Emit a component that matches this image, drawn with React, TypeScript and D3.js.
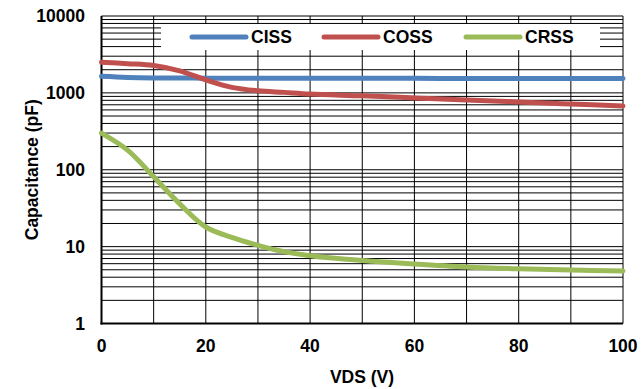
import React, { useEffect, useRef } from "react";
import * as d3 from "d3";

const vds = [0, 5, 10, 15, 20, 25, 30, 35, 40, 50, 60, 70, 80, 90, 100];
const ciss = [1640, 1590, 1565, 1558, 1555, 1553, 1552, 1551, 1550, 1548, 1545, 1542, 1540, 1538, 1535];
const coss = [2510, 2400, 2265, 1930, 1475, 1180, 1065, 1015, 965, 915, 860, 810, 760, 715, 675];
const crss = [300, 180, 81, 36, 18, 13.2, 10.4, 8.6, 7.6, 6.6, 5.95, 5.45, 5.15, 4.95, 4.83];

const xTicks = [0, 20, 40, 60, 80, 100];
const yTicks = [1, 10, 100, 1000, 10000];

const seriesNames = ["CISS", "COSS", "CRSS"];
const seriesColors = ["#4F81BD", "#C0504D", "#9BBB59"];

export default function App() {
  const ref = useRef<SVGSVGElement>(null);

  useEffect(() => {
    const svg = d3.select(ref.current);
    svg.selectAll("*").remove();

    const left = 101.5, right = 623, top = 16, bottom = 323.5;
    const font = "Arial, 'Liberation Sans', sans-serif";
    const fs = 17.5;

    const x = d3.scaleLinear().domain([0, 100]).range([left, right]);
    const y = d3.scaleLog().domain([1, 10000]).range([bottom, top]);

    const g = svg.append("g");

    // horizontal grid (log minors)
    const hLines: number[] = [];
    for (let d = 1; d < 10000; d *= 10) {
      for (let m = 1; m < 10; m++) hLines.push(d * m);
    }
    hLines.push(10000);
    g.selectAll(".hg")
      .data(hLines)
      .enter()
      .append("line")
      .attr("x1", left)
      .attr("x2", right)
      .attr("y1", (d) => y(d))
      .attr("y2", (d) => y(d))
      .attr("stroke", "#000")
      .attr("stroke-width", 1);

    // vertical grid
    g.selectAll(".vg")
      .data(d3.range(10, 101, 10))
      .enter()
      .append("line")
      .attr("x1", (d) => x(d))
      .attr("x2", (d) => x(d))
      .attr("y1", top)
      .attr("y2", bottom)
      .attr("stroke", "#000")
      .attr("stroke-width", 1);

    // axes lines
    g.append("line").attr("x1", left).attr("x2", left).attr("y1", top).attr("y2", bottom + 1)
      .attr("stroke", "#000").attr("stroke-width", 2);
    g.append("line").attr("x1", left - 1).attr("x2", right).attr("y1", bottom).attr("y2", bottom)
      .attr("stroke", "#000").attr("stroke-width", 2);

    // legend box
    g.append("rect").attr("x", 161).attr("y", 24).attr("width", 439).attr("height", 26).attr("fill", "#fff");

    // series
    const line = d3
      .line<number>()
      .x((_, i) => x(vds[i]))
      .y((d) => y(d))
      .curve(d3.curveCatmullRom.alpha(0.5));

    [ciss, coss, crss].forEach((s, i) => {
      g.append("path")
        .attr("d", line(s))
        .attr("fill", "none")
        .attr("stroke", seriesColors[i])
        .attr("stroke-width", 5)
        .attr("stroke-linecap", "round");
    });

    // legend
    const legX = [192, 324, 466];
    seriesNames.forEach((n, i) => {
      g.append("line")
        .attr("x1", legX[i])
        .attr("x2", legX[i] + 54)
        .attr("y1", 37)
        .attr("y2", 37)
        .attr("stroke", seriesColors[i])
        .attr("stroke-width", 5)
        .attr("stroke-linecap", "round");
      g.append("text")
        .attr("x", legX[i] + 59)
        .attr("y", 43)
        .attr("font-family", font)
        .attr("font-weight", "bold")
        .attr("font-size", fs)
        .attr("fill", "#000")
        .text(n);
    });

    // tick labels
    g.selectAll(".yl")
      .data(yTicks)
      .enter()
      .append("text")
      .attr("x", 85)
      .attr("y", (d) => y(d))
      .attr("dy", "0.35em")
      .attr("text-anchor", "end")
      .attr("font-family", font)
      .attr("font-weight", "bold")
      .attr("font-size", fs)
      .text((d) => String(d));

    g.selectAll(".xl")
      .data(xTicks)
      .enter()
      .append("text")
      .attr("x", (d) => x(d))
      .attr("y", 352)
      .attr("text-anchor", "middle")
      .attr("font-family", font)
      .attr("font-weight", "bold")
      .attr("font-size", fs)
      .text((d) => String(d));

    g.append("text")
      .attr("x", 362)
      .attr("y", 383)
      .attr("text-anchor", "middle")
      .attr("font-family", font)
      .attr("font-weight", "bold")
      .attr("font-size", fs)
      .text("VDS (V)");

    g.append("text")
      .attr("transform", `translate(38,${(top + bottom) / 2}) rotate(-90)`)
      .attr("text-anchor", "middle")
      .attr("font-family", font)
      .attr("font-weight", "bold")
      .attr("font-size", fs)
      .text("Capacitance (pF)");
  }, []);

  return (
    <svg
      ref={ref}
      width={641}
      height={389}
      style={{ position: "absolute", left: 0, top: 0, background: "#fff" }}
    />
  );
}
